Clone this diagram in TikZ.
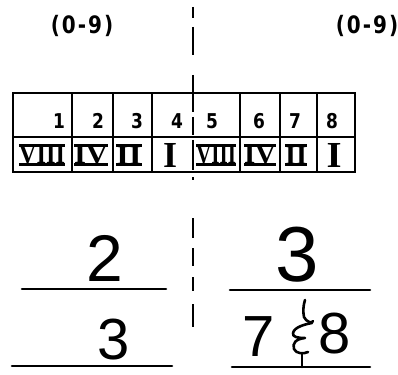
\documentclass[tikz,border=0pt]{standalone}
\usepackage{fontspec}
\newfontfamily\typefont{DejaVu Sans}[LetterSpace=10]
\newfontfamily\romfont{Liberation Serif}
\newfontfamily\handfont{Liberation Sans}
\newcommand\rnum[3]{\resizebox{#1pt}{#2pt}{\romfont\bfseries #3}}
\newcommand\tall[1]{\scalebox{1}[1.2]{#1}}
\tikzset{
  lbl/.style={font=\typefont\bfseries\fontsize{20}{20}\selectfont, inner sep=0pt},
  num/.style={font=\typefont\bfseries\fontsize{17}{17}\selectfont, inner sep=0pt},
  rom/.style={inner sep=0pt},
  bar/.style={line width=2.8pt},
  gridline/.style={line width=1.8pt},
  rulestroke/.style={line width=2.6pt, line cap=round},
  handA/.style={font=\handfont\fontsize{66}{66}\selectfont, inner sep=0pt},
  handB/.style={font=\handfont\fontsize{78}{78}\selectfont, inner sep=0pt},
  handC/.style={font=\handfont\fontsize{58}{58}\selectfont, inner sep=0pt},
  divider/.style={line width=2.2pt},
  ampstroke/.style={line width=2.6pt, line cap=round, line join=round},
}
\begin{document}
\begin{tikzpicture}[x=1pt,y=-1pt]
\useasboundingbox (0,0) rectangle (398,374);

% top labels
\node[lbl] (lr) at (82,26) {\tall{(0-9)}};
\node[lbl] (rr) at (367,26) {\tall{(0-9)}};

% table
\coordinate (tl) at (13,93);
\coordinate (br) at (355,172);
\draw[gridline] (tl) rectangle (br);
\draw[gridline] (13,137) -- (355,137);
\foreach \x in {72,113,152,240,280,317} {\draw[gridline] (\x,93) -- (\x,172);}

% numbers
\node[num] (n1) at (59,121) {\tall{1}};
\node[num] (n2) at (98,121) {\tall{2}};
\node[num] (n3) at (137,121) {\tall{3}};
\node[num] (n4) at (177,121) {\tall{4}};
\node[num] (n5) at (212,121) {\tall{5}};
\node[num] (n6) at (259,121) {\tall{6}};
\node[num] (n7) at (295,121) {\tall{7}};
\node[num] (n8) at (332,121) {\tall{8}};

% roman numerals
\node[rom] (r1) at (42,155) {\rnum{46}{18}{VIII}};
\node[rom] (r2) at (91,155) {\rnum{34}{18}{IV}};
\node[rom] (r3) at (129,155) {\rnum{26}{18}{II}};
\node[rom] (r4) at (170,155) {\rnum{14}{24}{I}};
\node[rom] (r5) at (216,155) {\rnum{40}{18}{VIII}};
\node[rom] (r6) at (260,155) {\rnum{32}{18}{IV}};
\node[rom] (r7) at (296,155) {\rnum{22}{18}{II}};
\node[rom] (r8) at (334,155) {\rnum{15}{24}{I}};
\foreach \n in {r1,r2,r3,r5,r6,r7} {
  \draw[bar] (\n.north west) -- (\n.north east) (\n.south west) -- (\n.south east);
}

% dashed divider
\foreach \a/\b in {7/18,27/55,75/112,117/135,140/170,177/180,218/238,248/266,277/291,304/327} {
  \draw[divider] (193,\a) -- (193,\b);
}

% handwritten figures
\node[handA] (d2) at (105,258) {2};
\node[handC] (d3l) at (114,340) {3};
\node[handB] (d3r) at (297,255) {3};
\node[handC] (d7) at (259,337) {7};
\node[handC] (d8) at (335,334) {8};

% underlines
\coordinate (u1a) at (22,289); \coordinate (u1b) at (166,289);
\coordinate (u2a) at (12,366); \coordinate (u2b) at (172,366);
\coordinate (u3a) at (230,290); \coordinate (u3b) at (370,290);
\coordinate (u4a) at (232,367); \coordinate (u4b) at (370,367);
\draw[rulestroke] (u1a) -- (u1b);
\draw[rulestroke] (u2a) -- (u2b);
\draw[rulestroke] (u3a) -- (u3b);
\draw[rulestroke] (u4a) -- (u4b);

% ampersand-like mark
\coordinate (mtop) at (305,300);
\coordinate (mbot) at (302,367);
\draw[ampstroke] (mtop) .. controls (303,306) and (303,312) .. (304,317)
  .. controls (306,322) and (313,324) .. (313,321);
\draw[ampstroke] (312,323) .. controls (306,324) and (294,327) .. (293,333)
  .. controls (292,337) and (298,338) .. (305,338)
  .. controls (296,339) and (292,343) .. (294,349)
  .. controls (296,354) and (304,354) .. (308,352);
\draw[ampstroke] (302,354) -- (mbot);
\end{tikzpicture}
\end{document}
